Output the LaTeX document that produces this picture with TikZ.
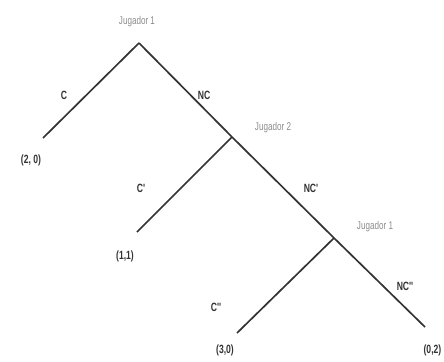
\documentclass[tikz,border=0pt]{standalone}
\usepackage{fontspec}
\setmainfont{Liberation Sans}
\newfontfamily\narrowfont[FakeStretch=0.72]{Liberation Sans}
\usepackage{xcolor}
\usetikzlibrary{positioning,calc}
\definecolor{playergray}{gray}{0.55}
\definecolor{edgegray}{gray}{0.2}

\begin{document}
\begin{tikzpicture}[
    x=0.025cm, y=-0.025cm,
    branch/.style={draw=edgegray, line width=1.2pt},
    player/.style={font=\narrowfont\fontsize{8}{9}\selectfont, text=playergray, inner sep=1pt},
    act/.style={font=\narrowfont\bfseries\fontsize{8.5}{10}\selectfont, text=edgegray, inner sep=1pt},
    pay/.style={font=\narrowfont\bfseries\fontsize{8.5}{10}\selectfont, text=edgegray, inner sep=1pt},
]
    \useasboundingbox (0,0) rectangle (444,361);

    % Decision points
    \coordinate (root) at (139,43);
    \coordinate (j2) at (232,137);
    \coordinate (j3) at (334,238);

    % Ends of branches
    \coordinate (endC) at (43,138);
    \coordinate (endCp) at (137,232);
    \coordinate (endCpp) at (237,333);
    \coordinate (endNCpp) at (425,327);

    % Players
    \node[player] (p1) at (137,22) {Jugador 1};
    \node[player] (p2) at (273,128) {Jugador 2};
    \node[player] (p3) at (375,227) {Jugador 1};

    % Actions
    \node[act] (aC) at (64,95) {C};
    \node[act] (aNC) at (204,95) {NC};
    \node[act] (aCp) at (141,188) {C'};
    \node[act] (aNCp) at (311,188) {NC'};
    \node[act] (aCpp) at (216,307) {C'{}'};
    \node[act] (aNCpp) at (405,286) {NC'{}'};

    % Payoffs
    \node[pay] (uC) at (31,160) {(2, 0)};
    \node[pay] (uCp) at (125,256) {(1,1)};
    \node[pay] (uCpp) at (225,350) {(3,0)};
    \node[pay, anchor=east] (uNCpp) at (443,350) {(0,2)};

    % Branches
    \draw[branch] (root) -- (endC);
    \draw[branch] (root) -- (j2);
    \draw[branch] (j2) -- (endCp);
    \draw[branch] (j2) -- (j3);
    \draw[branch] (j3) -- (endCpp);
    \draw[branch] (j3) -- (endNCpp);
\end{tikzpicture}
\end{document}
